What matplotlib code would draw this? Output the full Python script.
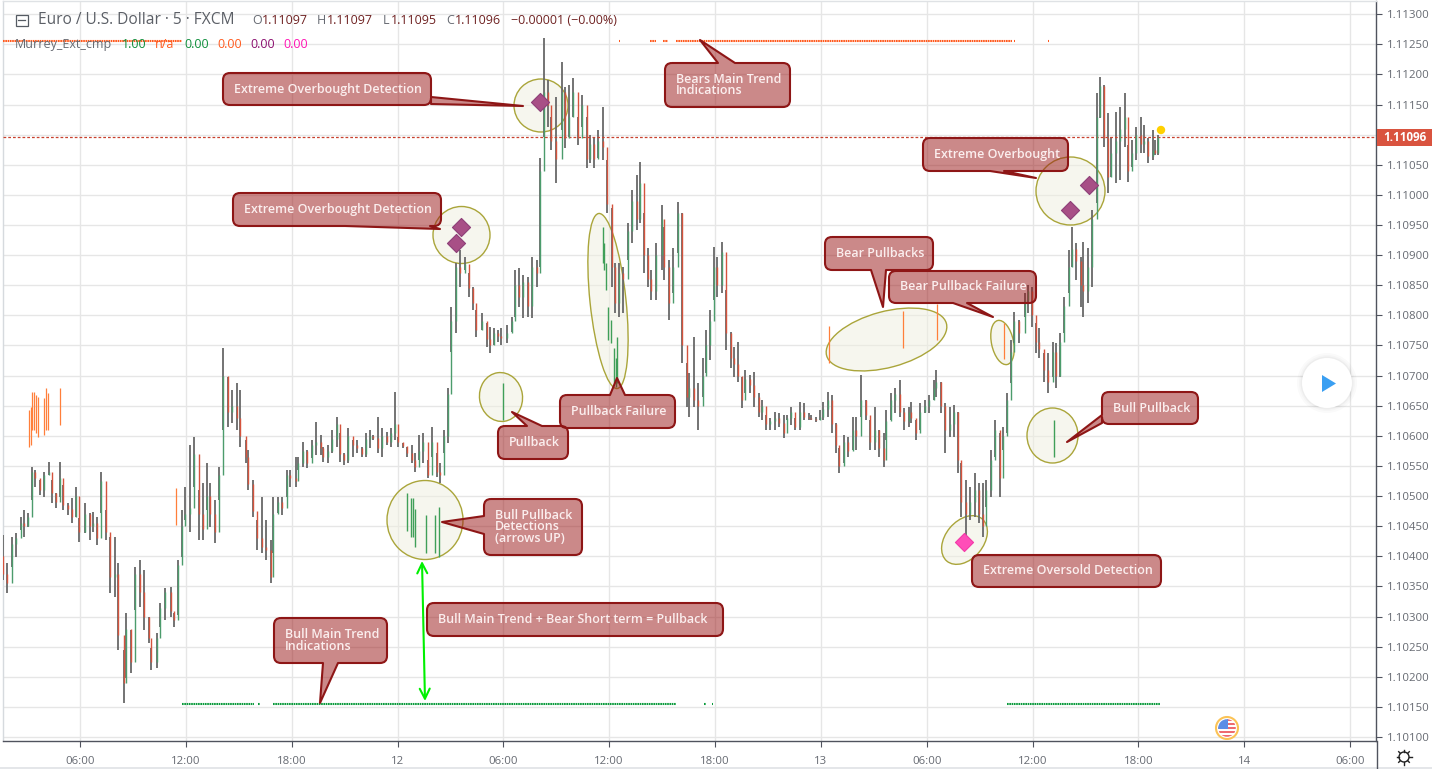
import numpy as np
import matplotlib
matplotlib.use("Agg")
import matplotlib.pyplot as plt
from matplotlib.path import Path
from matplotlib.patches import PathPatch, Ellipse, Circle, Rectangle, Polygon, FancyArrowPatch
from matplotlib.transforms import Affine2D

plt.rcParams['font.family'] = ['Open Sans', 'DejaVu Sans']

# ---------- data: prices are points above 1.10000 (1 point = 0.00001) ----------
bar_no = [0,3,6,9,12,14,17,20,22,25,28,31,33,36,39,41,44,47,50,52,56,59,61,64,67,70,73,76,78,82,84,87,90,93,96,99,101,105,107,110,114,116,119,122,124,127,130,133,136,139,141,144,147,150,153,156,159,161,165,167,170,173,176,179,182,184,187,190,193,195,199,201,204,207,210,213,216,218,221,224,227,229,232,235,238,241,244,247,250,252,255,258,261,264,267,269,272,275,278,280,283,286,289,292,295,297,300,303,305,308,311,314,317,320,322,326,329,331,334,337,339,343,346,348,351,354,357,360,363,365,368,371,373,376,380,382,385,388,391,394,397,399,402,405,408,411,414,416,419,422,425,428,431,433,436,439,441,444,448,450,453,456,459,462,465,467,470,473,476,478,481,484,486,489,492,495,497,500,503,505,508,511,514,516,519,522,525,528,531,533,536,539,542,545,548,550,553,556,558,561,564,567,569,572,575,578,580,584,587,590,593,596,599,601,604,607,610,613,616,618,621,624,627,630,633,635,638,641,644,647,650,652,655,658,661,664,667,669,672,675,678,680,683,686,688,691,695,697,700,703,705,708,711,714,716,719,722,725,727,730,733,735,738,741,744,746,749,752,754,757,760,763,765,768,771,774,776,779,782,784,786]
highs = [435,389,432,439,465,477,472,548,543,527,540,557,527,505,557,518,489,497,515,464,489,472,474,465,540,477,432,432,389,245,306,278,382,394,377,299,248,273,323,348,349,306,394,477,515,585,598,510,522,555,522,494,548,746,698,676,688,676,593,577,527,460,499,460,427,499,499,499,543,543,565,565,590,577,593,623,601,582,585,610,631,605,572,613,593,593,582,605,610,601,631,613,606,613,673,598,588,582,585,572,601,605,560,615,572,555,610,680,814,887,909,897,870,847,809,804,787,781,779,776,779,784,797,875,879,867,864,897,892,1061,1260,1191,1129,1163,1221,1179,1182,1194,1129,1166,1129,1099,1096,1108,1146,1058,978,887,887,880,953,1008,1033,1055,970,912,875,920,983,947,892,912,988,970,721,704,764,688,729,776,809,914,897,922,842,772,748,756,698,709,701,706,671,660,635,630,640,638,635,635,648,630,656,655,638,635,631,643,656,673,668,621,580,601,598,631,631,701,660,626,648,610,605,643,671,679,693,646,648,656,626,655,660,668,693,709,689,655,648,651,640,555,527,515,538,522,522,527,577,626,605,615,671,759,806,792,837,850,847,787,779,738,738,756,754,771,831,909,947,920,897,922,912,975,1169,1196,1182,1136,1096,1138,1146,1169,1083,1091,1113,1129,1116,1094,1108,1091,1099]
lows = [361,339,382,399,444,432,449,494,515,502,499,535,489,480,499,477,469,455,465,424,439,427,440,419,472,427,339,333,245,157,198,206,311,316,278,256,212,215,283,294,300,283,303,399,460,440,515,427,427,477,449,422,494,610,615,621,610,582,555,510,465,411,406,394,356,406,472,469,499,515,515,543,548,547,563,568,568,557,555,572,582,557,552,555,565,572,565,565,580,593,572,565,585,582,593,582,580,565,555,540,560,555,530,565,532,522,572,588,739,771,847,875,831,809,764,776,748,738,751,756,751,754,772,797,814,796,797,796,847,880,1096,1113,1075,1020,1108,1078,1096,1129,1083,1113,1045,1053,1045,1061,1058,970,847,804,797,804,892,920,942,953,870,847,826,826,875,859,792,837,904,721,648,631,648,610,665,704,726,826,831,837,743,713,698,690,646,671,671,648,631,626,610,610,610,615,596,626,618,610,610,626,626,626,623,626,626,631,605,572,538,555,565,577,577,631,626,577,577,565,548,593,626,638,631,610,615,621,593,610,638,638,660,665,638,572,598,598,538,465,422,460,465,455,432,482,499,565,499,577,605,688,754,754,797,804,781,738,729,690,671,698,679,698,771,837,880,859,814,797,821,847,987,1128,1079,1003,1030,1020,1025,1079,1021,1046,1058,1070,1070,1053,1058,1066,1066]
closes = [370,355,420,430,455,450,465,540,530,510,535,540,505,490,530,485,478,465,500,440,470,450,455,430,525,440,365,370,270,190,280,225,370,340,300,265,225,265,315,340,310,295,385,450,470,480,570,470,445,500,470,440,535,700,640,650,630,600,565,520,475,430,415,410,365,470,490,480,535,530,525,555,575,555,585,590,580,565,575,595,620,570,560,600,585,580,570,595,600,597,580,600,590,605,620,590,583,572,560,548,575,590,535,590,540,535,600,670,790,880,870,885,845,820,775,790,760,750,770,765,762,770,790,850,830,855,815,880,870,1040,1170,1150,1090,1060,1170,1095,1130,1170,1095,1150,1060,1085,1060,1090,1080,985,880,820,870,860,940,990,960,1020,900,860,840,900,960,880,820,880,970,750,665,680,660,650,700,750,790,880,850,905,770,730,720,700,660,695,685,665,640,650,620,625,630,622,605,630,640,615,640,632,630,628,626,632,645,660,620,585,550,590,575,610,600,660,635,590,610,580,560,625,660,670,640,625,640,630,605,640,650,660,680,690,650,610,620,640,560,490,470,490,510,470,450,510,560,610,530,600,660,740,790,770,825,840,800,755,745,710,690,740,700,755,815,880,910,890,850,840,880,960,1130,1180,1095,1030,1070,1090,1110,1130,1040,1070,1100,1085,1090,1065,1075,1070,1096]
first_open = 400
first_bar_hour = 1.635          # hours since 00:00 of the 11th

# short-term pullback marks: time (hours), upper and lower price points
bear_pb_hours = [3.11,3.22,3.28,3.39,3.51,3.62,3.96,4.07,4.19,4.87,11.44,48.46,52.66,54.58,58.38]
bear_pb_high = [643,648,673,673,668,665,663,680,671,680,513,782,807,819,787]
bear_pb_low = [582,585,610,610,605,598,601,610,610,618,452,721,746,759,728]
bull_pb_hours = [24.54,24.76,24.88,24.99,25.61,26.12,26.35,29.98,35.65,35.71,35.82,35.93,36.1,36.27,36.39,36.44,61.2]
bull_pb_high = [505,497,497,479,469,469,482,688,947,920,887,814,792,746,729,764,626]
bull_pb_low = [442,432,432,416,406,406,399,626,887,875,842,759,754,688,681,688,565]

# extreme detections
ob_hours = [27.6,27.32,32.08,62.12,63.2]
ob_price = [947,920,1154,975,1016]
os_hours = [56.11]
os_price = [424]

# main trend strips: start/end hours of each run
bull_trend_runs = [(11.78,15.86),(16.1,16.2),(16.94,39.79),(41.4,41.46),(41.85,41.91),(58.55,67.2)]
bear_trend_runs = [(1.63,11.78),(36.53,36.59),(38.34,38.64),(39.07,39.36),(39.79,58.84),(58.97,59.03),(60.9,60.96)]
bull_trend_level = 155
bear_trend_level = 1255
last_price = 1096

hour_ticks = [6,12,18,24,30,36,42,48,54,60,66,72,78]
hour_labels = ['06:00','12:00','18:00','12','06:00','12:00','18:00','13','06:00','12:00','18:00','14','06:00']
price_ticks = list(range(100, 1301, 50))
price_labels_hidden = [1100]    # covered by the last price tag

def price(p):
    return 1.1 + np.asarray(p, dtype=float) * 1e-5

# ---------- figure ----------
W, H = 1432, 769
fig = plt.figure(figsize=(W/100, H/100), dpi=100, facecolor='white')
ax = fig.add_axes([3/W, (H-741)/H, (1376-3)/W, 740/H])
px = Affine2D().scale(1, -1).translate(0, H)   # annotation layer: screen pixels, y downwards

ax.set_xlim(1.635, 79.47)
ax.set_ylim(float(price(93.4)), float(price(1321.9)))
ax.set_axisbelow(True)
ax.grid(True, color='#e6e6e6', lw=0.95)
ax.yaxis.tick_right()
ax.set_yticks(price(price_ticks))
ax.set_yticklabels(['' if p in price_labels_hidden else f'{float(price(p)):.5f}' for p in price_ticks])
ax.set_xticks(hour_ticks)
ax.set_xticklabels(hour_labels)
ax.tick_params(axis='y', length=4, width=0.8, color='#50535e', labelcolor='#666a72', labelsize=8.2, pad=4)
ax.tick_params(axis='x', length=4, width=0.8, color='#50535e', labelcolor='#666a72', labelsize=8.2, pad=7)
for s, c in [('top', '#dfe2e5'), ('left', '#d6dade'), ('right', '#50535e'), ('bottom', '#50535e')]:
    ax.spines[s].set_color(c)
    ax.spines[s].set_linewidth(1.0)

# ellipses (annotation layer, underneath the series)
ellipses = [(541,105.5,54,53,0),(461.5,235,57,57,0),(501,397,43,49,-8),(608,301,36,176,-6),
            (425,520,76,79,0),(886.5,339.5,124,56,-15),(1002.5,342.5,22,45,-12),(964.5,540,38,55,40),
            (1070.5,191,69,68,0),(1052.5,435.5,51,55,0)]
for cx, cy, w, h, ang in ellipses:
    ax.add_patch(Ellipse((cx, cy), w, h, angle=ang, transform=px,
                         facecolor=(.937, .937, .875, .5), edgecolor='#aaa53a', lw=1.0, zorder=2))

# candles
t = first_bar_hour + np.array(bar_no) / 12
hi, lo, cl = map(lambda a: np.array(a, dtype=float), (highs, lows, closes))
op = np.r_[first_open, cl[:-1]]
ax.vlines(t, price(lo), price(hi), color='#686868', lw=1.3, zorder=3)
up = cl >= op
ax.vlines(t[up], price(op[up]), price(cl[up]), color='#4c9c6c', lw=1.0, zorder=4)
ax.vlines(t[~up], price(op[~up]), price(cl[~up]), color='#d5533d', lw=1.0, zorder=4)

# pullback marks
ax.vlines(bear_pb_hours, price(bear_pb_low), price(bear_pb_high), color='#ff7f3a', lw=0.9, zorder=4)
ax.vlines(bull_pb_hours, price(bull_pb_low), price(bull_pb_high), color='#3f9f58', lw=1.0, zorder=4)

# trend strips
for runs, lvl, col in [(bull_trend_runs, bull_trend_level, '#0a9a3c'), (bear_trend_runs, bear_trend_level, '#ff5a1e')]:
    ax.hlines([float(price(lvl))] * len(runs), [r[0] for r in runs], [r[1] for r in runs],
              color=col, lw=1.5, linestyles=[(0, (0.8, 0.3))], zorder=4)

# last price line
ax.axhline(float(price(last_price)), color='#c9412e', lw=0.9, ls=(0, (2.2, 1.6)), zorder=3)

# diamonds
ax.scatter(ob_hours, price(ob_price), marker='D', s=85, color='#a84f86', edgecolor='#8e3f78', lw=0.8, zorder=6)
ax.scatter(os_hours, price(os_price), marker='D', s=85, color='#ff4db8', edgecolor='#f23aa8', lw=0.8, zorder=6)

# callouts
def callout(x0, y0, x1, y1, text, tail=None, r=7, fs=9.0, ls=0.86):
    side = tail[0] if tail else None
    v, c = [(x0 + r, y0)], [Path.MOVETO]
    def L(p):
        v.append(p); c.append(Path.LINETO)
    def Q(a, b):
        v.extend([a, b]); c.extend([Path.CURVE3, Path.CURVE3])
    if side == 't':
        L((tail[1], y0)); L((tail[3], tail[4])); L((tail[2], y0))
    L((x1 - r, y0)); Q((x1, y0), (x1, y0 + r))
    if side == 'r':
        L((x1, tail[1])); L((tail[3], tail[4])); L((x1, tail[2]))
    L((x1, y1 - r)); Q((x1, y1), (x1 - r, y1))
    if side == 'b':
        L((tail[2], y1)); L((tail[3], tail[4])); L((tail[1], y1))
    L((x0 + r, y1)); Q((x0, y1), (x0, y1 - r))
    if side == 'l':
        L((x0, tail[2])); L((tail[3], tail[4])); L((x0, tail[1]))
    L((x0, y0 + r)); Q((x0, y0), (x0 + r, y0))
    ax.add_patch(PathPatch(Path(v, c), transform=px, facecolor=(.6, .08, .08, .5),
                           edgecolor='#8e1616', lw=1.5, joinstyle='round', zorder=8, clip_on=False))
    ax.text(x0 + 11, (y0 + y1) / 2, text, transform=px, color='#fbeeee', fontsize=fs, weight='semibold',
            ha='left', va='center', linespacing=ls, zorder=9)

callout(223, 73, 431, 105, 'Extreme Overbought Detection', ('r', 97, 104, 523, 106))
callout(233, 193, 441, 226, 'Extreme Overbought Detection', ('b', 345, 430, 440, 229))
callout(665, 63, 790, 107, 'Bears Main Trend\nIndications', ('t', 718, 735, 700, 40))
callout(498, 426, 568, 459, 'Pullback', ('t', 527, 542, 512, 412))
callout(560, 395, 675, 428, 'Pullback Failure', ('t', 610, 625, 617, 378))
callout(484, 499, 582, 555, 'Bull Pullback\nDetections\n(arrows UP)', ('l', 516, 534, 442, 522))
callout(427, 603, 723, 636, 'Bull Main Trend + Bear Short term = Pullback')
callout(274, 618, 387, 663, 'Bull Main Trend\nIndications', ('b', 323, 338, 320, 703))
callout(825, 237, 933, 270, 'Bear Pullbacks', ('b', 871, 886, 883, 307))
callout(889, 271, 1036, 303, 'Bear Pullback Failure', ('b', 953, 967, 993, 317))
callout(923, 138, 1068, 171, 'Extreme Overbought', ('b', 990, 1004, 1036, 178))
callout(1102, 392, 1198, 424, 'Bull Pullback', ('l', 415, 423, 1067, 442))
callout(972, 555, 1161, 587, 'Extreme Oversold Detection')

# two-headed green arrow
ax.add_patch(FancyArrowPatch((422, 561), (425, 701), transform=px, arrowstyle='<->', mutation_scale=18,
                             color='#00f000', lw=1.5, shrinkA=0, shrinkB=0, zorder=7))

# yellow dot at the series end
ax.add_patch(Circle((1161, 130), 3.5, transform=px, color='#ffd000', zorder=7))

# play button
for rad, a in [(30, .02), (28, .02), (26.5, .03)]:
    ax.add_patch(Circle((1327, 383), rad, transform=px, color='black', alpha=a, lw=0, zorder=7))
ax.add_patch(Circle((1327, 383), 25, transform=px, color='white', lw=0, zorder=7))
ax.add_patch(Polygon([(1322, 375), (1322, 392), (1336, 383.5)], transform=px, color='#3a9ff2', lw=0, zorder=8))

# flag badge
ax.add_patch(Circle((1227, 728), 11, transform=px, facecolor='white', edgecolor='#fbc356', lw=1.5, zorder=7))
badge = Circle((1227, 728), 8.8, transform=px, facecolor='none', lw=0, zorder=7)
ax.add_patch(badge)
for yy in (727, 731, 735):
    s = Rectangle((1218, yy), 18, 2.2, transform=px, color='#ee6b70', lw=0, zorder=8)
    ax.add_patch(s); s.set_clip_path(badge)
for yy in (719, 723):
    s = Rectangle((1227, yy), 9, 2.2, transform=px, color='#ee6b70', lw=0, zorder=8)
    ax.add_patch(s); s.set_clip_path(badge)
s = Rectangle((1218, 719), 10, 10, transform=px, color='#5b8ee6', lw=0, zorder=9)
ax.add_patch(s); s.set_clip_path(badge)

# last price tag
ax.add_patch(Rectangle((1377, 129), 55, 17, transform=px, color='#d9533f', lw=0, zorder=9, clip_on=False))
ax.text(1404.5, 137.5, f'{float(price(last_price)):.5f}', transform=px, color='white', fontsize=8.4, weight='bold',
        ha='center', va='center', zorder=10)

# header text
def head(x, y, s, col, fs=8.8):
    ax.text(x, y, s, transform=px, color=col, fontsize=fs, ha='left', va='center', zorder=10)
ax.add_patch(Rectangle((15.5, 14.5), 12, 11, transform=px, facecolor='white', edgecolor='#555b63', lw=0.9, zorder=10))
ax.plot([18, 25], [20, 20], transform=px, color='#555b63', lw=0.9, zorder=11)
head(38, 20, 'Euro / U.S. Dollar · 5 · FXCM', '#5b5f66', 11.2)
for xl, lab, xv, val in [(252, 'O', 261.5, '1.11097'), (317, 'H', 326.5, '1.11097'), (383, 'L', 390.5, '1.11095'), (446, 'C', 454.5, '1.11096')]:
    head(xl, 20, lab, '#666a72', 9)
    head(xv, 20, val, '#6f2222', 9)
head(511, 20, '−0.00001 (−0.00%)', '#6f2222', 9)
head(15, 44.5, 'Murrey_Ext_cmp', '#666a72', 9)
for xv, val, col in [(122, '1.00', '#0f8f3c'), (155, 'n/a', '#ff5a1e'), (184, '0.00', '#0f8f3c'),
                     (217, '0.00', '#ff5a1e'), (250, '0.00', '#8b0f6f'), (283, '0.00', '#ff14b4')]:
    head(xv, 44.5, val, col, 9)

# settings gear
ax.add_patch(Circle((1404, 757), 5, transform=px, facecolor='white', edgecolor='#222222', lw=1.0, zorder=10, clip_on=False))
for a in np.deg2rad(np.arange(0, 360, 45)):
    ax.plot([1404 + 5 * np.cos(a), 1404 + 7.5 * np.cos(a)], [757 + 5 * np.sin(a), 757 + 7.5 * np.sin(a)],
            transform=px, color='#222222', lw=1.0, zorder=10, clip_on=False)

# outer frame
fig.add_artist(plt.Line2D([0, 1], [1.5/H, 1.5/H], color='#dfe2e5', lw=1.2))
fig.add_artist(plt.Line2D([1377/W, 1377/W], [0, 28/H], color='#50535e', lw=1.0))

fig.savefig('out.png', dpi=100)
